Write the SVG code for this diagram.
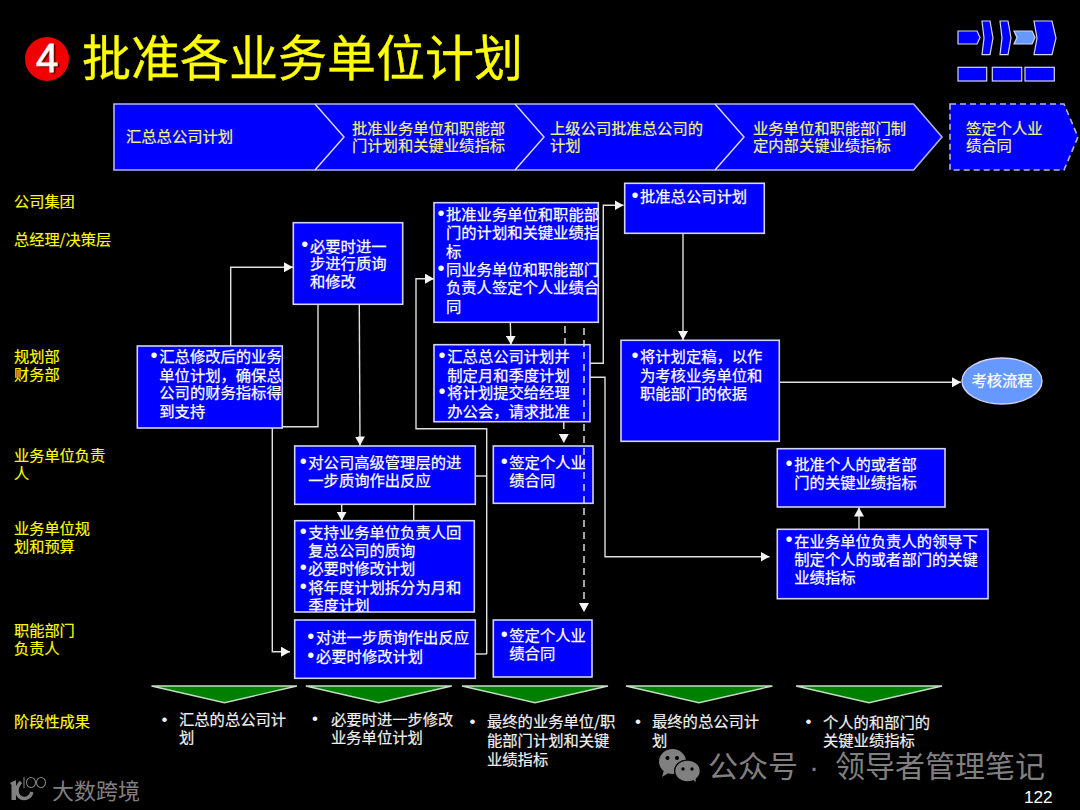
<svg xmlns="http://www.w3.org/2000/svg" width="1080" height="810" viewBox="0 0 1080 810">
<style>
text{font-family:"Noto Sans CJK SC","Liberation Sans",sans-serif}
.box{fill:#0000ff;stroke:#d4d4f4;stroke-width:1.6}
.chev{fill:#0000ff;stroke:#b4b4ec;stroke-width:1.6}
.notch{fill:none;stroke:#e0e0f8;stroke-width:1.4}
.dash{stroke-dasharray:6 4}
.ct{font-size:15.3px;fill:#f4f480;stroke:#f4f480;stroke-width:.2;transform:translateY(-.8px)}
.lab{font-size:15.2px;fill:#ffff00;stroke:#ffff00;stroke-width:.15;transform:translateY(-.8px)}
.t{font-size:15.3px;fill:#ffffff;stroke:#ffffff;stroke-width:.25;transform:translateY(-.8px)}
.bt{font-size:15.3px;fill:#f0f0f0;stroke:#f0f0f0;stroke-width:.2;transform:translateY(-.8px)}
.bu{font-family:"Liberation Sans",sans-serif;font-size:20px;fill:#ffffff;text-anchor:middle;transform:translateY(1.9px)}
.bb{font-family:"Liberation Sans",sans-serif;font-size:17px;fill:#f0f0f0;text-anchor:middle;transform:translateY(.7px)}
.con{fill:none;stroke:#e0e0e0;stroke-width:1.4}
.conD{fill:none;stroke:#e8e8e8;stroke-width:1.4;stroke-dasharray:7 5}
.tri{fill:#008000;stroke:#c4dcc4;stroke-width:1.4}
.ic{fill:#0000ff;stroke:#d4d4f4;stroke-width:1.2}
.wm{fill:#808080}
</style>
<defs>
<marker id="arr" markerUnits="userSpaceOnUse" markerWidth="10" markerHeight="10" refX="9" refY="5" orient="auto"><path d="M0,0 L9,5 L0,10 Z" fill="#f4f4f4"/></marker>
<clipPath id="clipS"><rect x="294" y="520" width="181" height="92"/></clipPath>
</defs>
<rect width="1080" height="810" fill="#000000"/>

<g id="title">
<circle cx="47" cy="59" r="22" fill="#f00000"/>
<text x="48.5" y="73" text-anchor="middle" style="font-family:'Liberation Sans',sans-serif;font-size:40px" fill="#600000" stroke="#600000" stroke-width=".8">4</text>
<text x="47" y="71.5" text-anchor="middle" style="font-family:'Liberation Sans',sans-serif;font-size:40px" fill="#ffffff" stroke="#ffffff" stroke-width=".8">4</text>
<text x="82" y="75.5" style="font-size:49px" fill="#ffff00" stroke="#ffff00" stroke-width=".3">批准各业务单位计划</text>
</g>

<g id="nav-icon">
<polygon class="ic" points="958,31 977,31 980,37.5 977,44 958,44"/>
<polygon class="ic" points="982,21 990,21 993,38 990,54.7 982,54.7 984,38"/>
<polygon class="ic" points="1000,21 1008,21 1011,38 1008,54.7 1000,54.7 1002,38"/>
<polygon points="1014,31 1032,31 1035,37.5 1032,44 1014,44 1017,37.5" fill="#6699ff" stroke="#d4d4f4" stroke-width="1.2"/>
<polygon class="ic" points="1034,21 1052,21 1056,38 1052,54.7 1034,54.7 1037,38"/>
<rect class="ic" x="958" y="67.3" width="28.7" height="13.7"/>
<rect class="ic" x="992.3" y="67.3" width="29.4" height="13.7"/>
<rect class="ic" x="1025" y="67.3" width="29.3" height="13.7"/>
</g>

<g id="phase-chevrons">
<polygon class="chev" points="114,104 913.6,104 942,137 913.6,170 114,170"/>
<polyline class="notch" points="315,104 344,137 315,170"/>
<polyline class="notch" points="515,104 544,137 515,170"/>
<polyline class="notch" points="715,104 744,137 715,170"/>
<text class="ct" x="126" y="142.5">汇总总公司计划</text>
<text class="ct" x="352" y="134.5">批准业务单位和职能部</text>
<text class="ct" x="352" y="152.3">门计划和关键业绩指标</text>
<text class="ct" x="550" y="134.5">上级公司批准总公司的</text>
<text class="ct" x="550" y="152.3">计划</text>
<text class="ct" x="753" y="134.5">业务单位和职能部门制</text>
<text class="ct" x="753" y="152.3">定内部关键业绩指标</text>
<polygon class="chev dash" points="950,104 1064,104 1078,137 1064,170 950,170"/>
<text class="ct" x="966" y="134.5">签定个人业</text>
<text class="ct" x="966" y="152.3">绩合同</text>
</g>

<g id="row-labels">
<text class="lab" x="14" y="207.5">公司集团</text>
<text class="lab" x="14" y="245.5">总经理/决策层</text>
<text class="lab" x="14" y="362.5">规划部</text>
<text class="lab" x="14" y="380.5">财务部</text>
<text class="lab" x="14" y="461.5">业务单位负责</text>
<text class="lab" x="14" y="479.5">人</text>
<text class="lab" x="14" y="534.5">业务单位规</text>
<text class="lab" x="14" y="552.5">划和预算</text>
<text class="lab" x="14" y="636.5">职能部门</text>
<text class="lab" x="14" y="654.5">负责人</text>
<text class="lab" x="14" y="727.5">阶段性成果</text>
</g>

<g id="n-query">
<rect class="box" x="293.3" y="222.7" width="109.4" height="81.6"/>
<text class="bu" x="304.7" y="249">•</text>
<text class="t" x="310" y="252.5">必要时进一</text>
<text class="t" x="310" y="269.8">步进行质询</text>
<text class="t" x="310" y="287.5">和修改</text>
</g>
<g id="n-summary">
<rect class="box" x="137.3" y="346" width="145" height="82"/>
<text class="bu" x="154" y="360">•</text>
<text class="t" x="159.3" y="362.5">汇总修改后的业务</text>
<text class="t" x="159.3" y="381.5">单位计划，确保总</text>
<text class="t" x="159.3" y="399">公司的财务指标得</text>
<text class="t" x="159.3" y="417.5">到支持</text>
</g>
<g id="n-approve">
<rect class="box" x="434" y="202.7" width="164.3" height="119.6"/>
<text class="bu" x="441" y="218">•</text>
<text class="t" x="446" y="220.8">批准业务单位和职能部</text>
<text class="t" x="446" y="239.1">门的计划和关键业绩指</text>
<text class="t" x="446" y="257.5">标</text>
<text class="bu" x="441" y="273">•</text>
<text class="t" x="446" y="275.8">同业务单位和职能部门</text>
<text class="t" x="446" y="294.1">负责人签定个人业绩合</text>
<text class="t" x="446" y="312.5">同</text>
</g>
<g id="dash-behind">
<path class="conD" d="M565,326 V345"/>
</g>
<g id="n-consolidate">
<rect class="box" x="434" y="344.7" width="156" height="77"/>
<text class="bu" x="442" y="360">•</text>
<text class="t" x="447.3" y="362.5">汇总总公司计划并</text>
<text class="t" x="447.3" y="381.5">制定月和季度计划</text>
<text class="bu" x="442" y="396">•</text>
<text class="t" x="447.3" y="399">将计划提交给经理</text>
<text class="t" x="447.3" y="417.5">办公会，请求批准</text>
</g>
<g id="n-respond">
<rect class="box" x="294.7" y="446" width="180.6" height="58.3"/>
<text class="bu" x="303.3" y="466">•</text>
<text class="t" x="308.3" y="468.5">对公司高级管理层的进</text>
<text class="t" x="308.3" y="486.5">一步质询作出反应</text>
</g>
<g id="n-support">
<rect class="box" x="294.7" y="520.7" width="179.6" height="91.3"/>
<g clip-path="url(#clipS)">
<text class="bu" x="303.3" y="536">•</text>
<text class="t" x="308.3" y="538.5">支持业务单位负责人回</text>
<text class="t" x="308.3" y="556.5">复总公司的质询</text>
<text class="bu" x="303.3" y="572.5">•</text>
<text class="t" x="308.3" y="575">必要时修改计划</text>
<text class="bu" x="303.3" y="591.5">•</text>
<text class="t" x="308.3" y="594">将年度计划拆分为月和</text>
<text class="t" x="308.3" y="611.8">季度计划</text>
</g>
</g>
<g id="n-function">
<rect class="box" x="294.7" y="620" width="180.6" height="58.3"/>
<text class="bu" x="310.7" y="641.5">•</text>
<text class="t" x="316" y="643.8">对进一步质询作出反应</text>
<text class="bu" x="310.7" y="660">•</text>
<text class="t" x="316" y="662.5">必要时修改计划</text>
</g>
<g id="n-sign1">
<rect class="box" x="493.3" y="446" width="99.7" height="57.3"/>
<text class="bu" x="504.3" y="466">•</text>
<text class="t" x="509.3" y="468.5">签定个人业</text>
<text class="t" x="509.3" y="486.5">绩合同</text>
</g>
<g id="n-sign2">
<rect class="box" x="493.3" y="620" width="98.7" height="57"/>
<text class="bu" x="504.3" y="639.5">•</text>
<text class="t" x="509.3" y="641.8">签定个人业</text>
<text class="t" x="509.3" y="660">绩合同</text>
</g>
<g id="n-approve-corp">
<rect class="box" x="624.7" y="183.3" width="139.6" height="50"/>
<text class="bu" x="635" y="200.5">•</text>
<text class="t" x="640" y="203">批准总公司计划</text>
</g>
<g id="n-finalize">
<rect class="box" x="621" y="340.3" width="158.3" height="101"/>
<text class="bu" x="635" y="360.5">•</text>
<text class="t" x="640" y="363">将计划定稿，以作</text>
<text class="t" x="640" y="381.5">为考核业务单位和</text>
<text class="t" x="640" y="399.8">职能部门的依据</text>
</g>
<g id="n-review">
<ellipse cx="1002" cy="381" rx="40" ry="23" fill="#6699ff" stroke="#d4d4f4" stroke-width="1.4"/>
<text x="1002" y="386.5" text-anchor="middle" class="t">考核流程</text>
</g>
<g id="n-approve-kpi">
<rect class="box" x="777.3" y="448.7" width="167.7" height="58.3"/>
<text class="bu" x="789" y="468">•</text>
<text class="t" x="794.3" y="470.8">批准个人的或者部</text>
<text class="t" x="794.3" y="489.1">门的关键业绩指标</text>
</g>
<g id="n-set-kpi">
<rect class="box" x="777.3" y="529.3" width="210.7" height="69.4"/>
<text class="bu" x="789" y="544.5">•</text>
<text class="t" x="794.3" y="547.5">在业务单位负责人的领导下</text>
<text class="t" x="794.3" y="565.8">制定个人的或者部门的关键</text>
<text class="t" x="794.3" y="583.8">业绩指标</text>
</g>

<g id="connectors">
<path class="con" marker-end="url(#arr)" d="M230.7,346 V267.3 H293"/>
<path class="con" d="M318,304.3 V426.7 H282.3"/>
<path class="con" marker-end="url(#arr)" d="M359.3,304.3 L360,445.5"/>
<path class="con" marker-end="url(#arr)" d="M272.3,428 V651.7 H290"/>
<path class="con" marker-end="url(#arr)" d="M486.7,654 V428.7 H416 V278.7 H434"/>
<path class="con" d="M475.3,476 H486.7"/>
<path class="con" d="M475.3,654 H486.7"/>
<path class="con" marker-end="url(#arr)" d="M341.7,504.3 V520.7"/>
<path class="con" d="M413.7,504.3 V520.7"/>
<path class="con" marker-end="url(#arr)" d="M510.3,322.3 L511,344.7"/>
<path class="conD" marker-end="url(#arr)" d="M563.8,422 V443"/>
<path class="conD" marker-end="url(#arr)" d="M584,328 V612"/>
<path class="con" marker-end="url(#arr)" d="M590,363.3 H603.3 V205.3 H623.5"/>
<path class="con" marker-end="url(#arr)" d="M590,377.3 H605 V556.7 H769.5"/>
<path class="con" marker-end="url(#arr)" d="M683,233.3 V340"/>
<path class="con" marker-end="url(#arr)" d="M779.3,382.3 H961"/>
<path class="con" marker-end="url(#arr)" d="M859,529.3 V507.5"/>
</g>

<g id="outcomes">
<polygon class="tri" points="151.5,686 297,686 224.5,702.7"/>
<polygon class="tri" points="305.8,686 451.8,686 378.8,702.7"/>
<polygon class="tri" points="462,686 608,686 535,702.7"/>
<polygon class="tri" points="626,686 772.4,686 699,702.7"/>
<polygon class="tri" points="796,686 942,686 869,702.7"/>
<text class="bb" x="164.6" y="724">•</text>
<text class="bt" x="179" y="726">汇总的总公司计</text>
<text class="bt" x="179" y="744">划</text>
<text class="bb" x="315" y="723">•</text>
<text class="bt" x="331" y="725.5">必要时进一步修改</text>
<text class="bt" x="331" y="743.5">业务单位计划</text>
<text class="bb" x="472.5" y="726">•</text>
<text class="bt" x="487" y="728.3">最终的业务单位/职</text>
<text class="bt" x="487" y="746.5">能部门计划和关键</text>
<text class="bt" x="487" y="765.5">业绩指标</text>
<text class="bb" x="638" y="726">•</text>
<text class="bt" x="652" y="728.3">最终的总公司计</text>
<text class="bt" x="652" y="746.5">划</text>
<text class="bb" x="808.6" y="726">•</text>
<text class="bt" x="823" y="728.5">个人的和部门的</text>
<text class="bt" x="823" y="746.5">关键业绩指标</text>
</g>

<g id="watermarks">
<path class="wm" d="M10,783 L16,780 V800 H11.5 V785 Z"/>
<path d="M21,782 Q16.5,786 17,792 Q18.5,798.5 24,798.5 Q30,798.5 32,792" fill="none" stroke="#808080" stroke-width="3.5"/>
<g fill="none" stroke="#808080" stroke-width="1.1">
<path d="M24,777 V788"/>
<ellipse cx="31" cy="782.5" rx="4.5" ry="5"/>
<ellipse cx="41" cy="782.5" rx="4.5" ry="5"/>
</g>
<text class="wm" x="52" y="798.5" style="font-size:22px">大数跨境</text>
<ellipse class="wm" cx="672.5" cy="761.5" rx="13.5" ry="12.5"/>
<path class="wm" d="M664,770 L662,777 L670,772 Z"/>
<ellipse cx="687.5" cy="771" rx="13.5" ry="11.5" fill="#000000"/>
<ellipse class="wm" cx="687.5" cy="771" rx="12.2" ry="10.3"/>
<path class="wm" d="M692,779 L696,782 L695,775 Z"/>
<circle cx="667.5" cy="758" r="2" fill="#000000"/>
<circle cx="677" cy="758" r="2" fill="#000000"/>
<circle cx="683" cy="769" r="1.7" fill="#000000"/>
<circle cx="692" cy="769" r="1.7" fill="#000000"/>
<text class="wm" x="708" y="777" style="font-size:30px">公众号</text>
<text class="wm" x="814" y="777" text-anchor="middle" style="font-size:30px;font-family:'Liberation Sans',sans-serif">·</text>
<text class="wm" x="835" y="777" style="font-size:30px">领导者管理笔记</text>
</g>
<text id="page-number" x="1024" y="803" style="font-family:'Liberation Sans',sans-serif;font-size:17.2px" fill="#ffffff">122</text>
</svg>
